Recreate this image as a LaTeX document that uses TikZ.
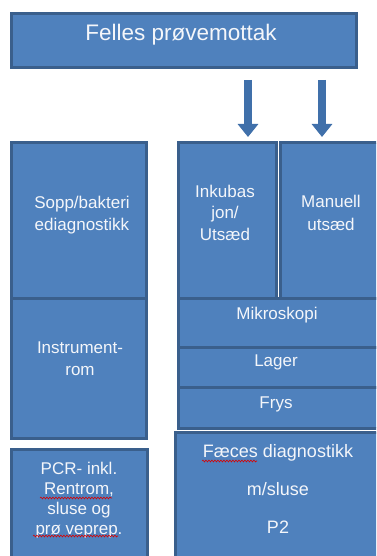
\documentclass[tikz,border=0pt]{standalone}
\usepackage{fontspec}
\setmainfont{Liberation Sans}
\usetikzlibrary{arrows.meta,decorations.pathmorphing}
\definecolor{boxfill}{HTML}{4F81BD}
\definecolor{boxline}{HTML}{3A5F8C}
\definecolor{arrowc}{HTML}{4070AA}
\definecolor{txt}{HTML}{F4F6FA}
\newcommand\roombox[5]{\node[room, anchor=north west, minimum width={#4-#2}, minimum height={#5-#3}] (#1) at (#2,#3) {};}
\begin{document}
\begin{tikzpicture}[x=1pt,y=-1pt,
  room/.style={draw=boxline, fill=boxfill, line width=3pt, inner sep=0pt, outer sep=0pt},
  lbl/.style={text=txt, inner sep=0pt, align=center, font=\fontsize{17}{22}\selectfont},
  bigarrow/.style={draw=arrowc, line width=7.5pt, -{Triangle[width=20pt,length=13pt]}},
  squiggle/.style={draw=red!85!black, line width=0.6pt, decorate, decoration={snake, amplitude=0.9pt, segment length=3pt}}]
\useasboundingbox (0,0) rectangle (376,556);
\clip (0,0) rectangle (376,556);
% rooms
\roombox{top}{11}{14}{356}{68}
\roombox{sopp}{11}{143}{146}{298}
\roombox{instr}{11}{298}{146}{438}
\roombox{pcr}{11}{449}{147}{570}
\roombox{inkub}{178}{143}{276.5}{298}
\roombox{manuell}{280.5}{143}{385}{298}
\roombox{mikro}{178}{298}{385}{347}
\roombox{lager}{178}{347}{385}{387}
\roombox{frys}{178}{387}{385}{428}
\roombox{faeces}{175}{432}{385}{570}
% arrows
\coordinate (a1s) at (248,80);
\coordinate (a1e) at (248,137);
\coordinate (a2s) at (322,80);
\coordinate (a2e) at (322,137);
\draw[bigarrow] (a1s) -- (a1e);
\draw[bigarrow] (a2s) -- (a2e);
% labels (anchor=base sits on the last line's baseline)
\node[lbl, font=\fontsize{22.5}{26}\selectfont] (ttop) at (181,35) {Felles prøvemottak};
\node[lbl, anchor=base] (tsopp) at (82,230) {Sopp/bakteri\\ediagnostikk};
\node[lbl, anchor=base] (tinstr) at (80,375) {Instrument-\\rom};
\node[lbl, anchor=base, font=\fontsize{17}{20}\selectfont] (tpcr) at (79,534) {PCR- inkl.\\Rentrom,\\sluse og\\prø veprep.};
\node[lbl, anchor=base, font=\fontsize{17}{21.5}\selectfont] (tinkub) at (225,240) {Inkubas\\jon/\\Utsæd};
\node[lbl, anchor=base, font=\fontsize{17}{23}\selectfont] (tmanuell) at (331,230) {Manuell\\utsæd};
\node[lbl, anchor=base] (tmikro) at (277,319) {Mikroskopi};
\node[lbl, anchor=base] (tlager) at (276,366) {Lager};
\node[lbl, anchor=base] (tfrys) at (276,408) {Frys};
\node[lbl, anchor=base, font=\fontsize{18}{38}\selectfont] (tfaeces) at (278,533) {Fæces diagnostikk\\m/sluse\\P2};
% spell-check squiggles
\draw[squiggle] (202,461) -- (257,461);
\draw[squiggle] (40,498) -- (112,498);
\draw[squiggle] (33,536) -- (118,536);
\end{tikzpicture}
\end{document}
